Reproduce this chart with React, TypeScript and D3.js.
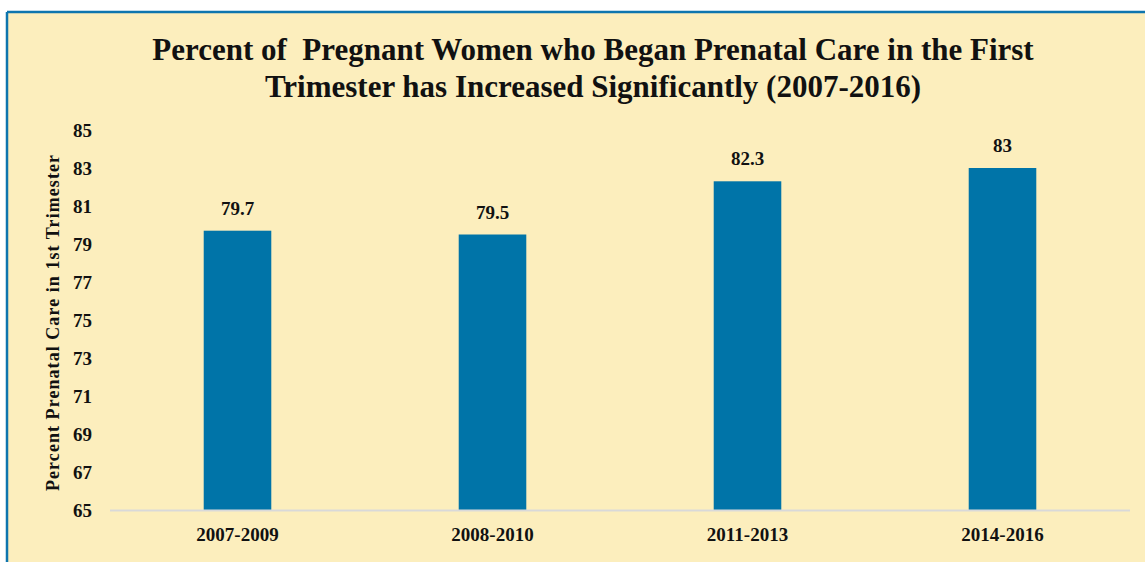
import React from "react";
import * as d3 from "d3";

const categories = ["2007-2009", "2008-2010", "2011-2013", "2014-2016"];
const values = [79.7, 79.5, 82.3, 83];
const yTicks = [65, 67, 69, 71, 73, 75, 77, 79, 81, 83, 85];
const titleLines = [
  "Percent of  Pregnant Women who Began Prenatal Care in the First",
  "Trimester has Increased Significantly (2007-2016)",
];
const yAxisTitle = "Percent Prenatal Care in 1st Trimester";

const W = 1145;
const H = 562;
const FONT = "'Liberation Serif', 'DejaVu Serif', serif";

export default function App() {
  const x = d3
    .scaleBand<string>()
    .domain(categories)
    .range([110, 1130])
    .paddingInner(0.735)
    .paddingOuter(0.3675);
  const y = d3.scaleLinear().domain([65, 85]).range([510, 130]);

  return (
    <svg
      width={W}
      height={H}
      style={{ position: "absolute", left: 0, top: 0, display: "block" }}
    >
      <rect x={0} y={0} width={W} height={H} fill="#ffffff" />
      <rect x={7} y={12} width={W} height={H} fill="#FCEEBD" />
      <line x1={7} y1={12} x2={W} y2={12} stroke="#0E75AE" strokeWidth={2.5} />
      <line x1={7} y1={12} x2={7} y2={H} stroke="#0E75AE" strokeWidth={2.5} />

      {titleLines.map((t, i) => (
        <text
          key={i}
          x={593}
          y={60 + i * 37}
          textAnchor="middle"
          fontFamily={FONT}
          fontWeight="bold"
          fontSize={31}
          fill="#111"
          style={{ whiteSpace: "pre" }}
        >
          {t}
        </text>
      ))}

      {yTicks.map((t) => (
        <text
          key={t}
          x={92}
          y={y(t)}
          dy="0.35em"
          textAnchor="end"
          fontFamily={FONT}
          fontWeight="bold"
          fontSize={19}
          fill="#111"
        >
          {t}
        </text>
      ))}

      <text
        transform={`translate(59, 323) rotate(-90)`}
        textAnchor="middle"
        fontFamily={FONT}
        fontWeight="bold"
        fontSize={18}
        textLength={336}
        lengthAdjust="spacing"
        fill="#111"
      >
        {yAxisTitle}
      </text>

      {categories.map((c, i) => (
        <g key={c}>
          <rect
            x={x(c)!}
            y={y(values[i])}
            width={x.bandwidth()}
            height={y(65) - y(values[i])}
            fill="#0074A8"
          />
          <text
            x={x(c)! + x.bandwidth() / 2}
            y={y(values[i]) - 16}
            textAnchor="middle"
            fontFamily={FONT}
            fontWeight="bold"
            fontSize={19}
            fill="#111"
          >
            {values[i]}
          </text>
          <text
            x={x(c)! + x.bandwidth() / 2}
            y={541}
            textAnchor="middle"
            fontFamily={FONT}
            fontWeight="bold"
            fontSize={19}
            fill="#111"
          >
            {c}
          </text>
        </g>
      ))}

      <line x1={110} y1={510.5} x2={1130} y2={510.5} stroke="#D9D9D9" strokeWidth={2} />
    </svg>
  );
}
